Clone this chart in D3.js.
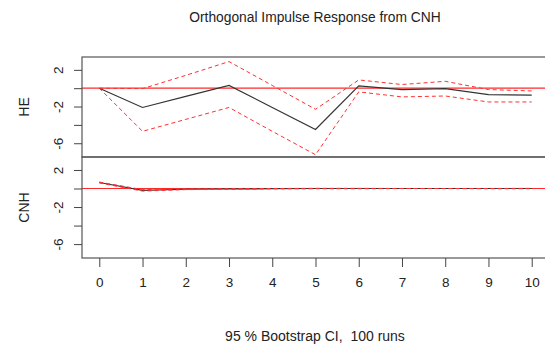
<!DOCTYPE html>
<html>
<head>
<meta charset="utf-8">
<script src="https://cdn.jsdelivr.net/npm/d3@7"></script>
<style>
  body { margin: 0; background: #fff; }
  text { font-family: "Liberation Sans", Arial, sans-serif; fill: #222; }
</style>
</head>
<body>
<div id="chart"></div>
<script>
const horizon = [0, 1, 2, 3, 4, 5, 6, 7, 8, 9, 10];
const yTicks = [2, 0, -2, -4, -6];
const yTickLabels = ['2', '', '-2', '', '-6'];

const heIrf   = [0, -2.1, -0.9, 0.3, -2.1, -4.5, 0.25, -0.15, -0.05, -0.7, -0.75];
const heUpper = [0, -0.05, 1.4, 2.9, 0.3, -2.3, 0.9, 0.4, 0.75, -0.15, -0.3];
const heLower = [0, -4.7, -3.4, -2.1, -4.7, -7.25, -0.4, -0.95, -0.85, -1.5, -1.5];

const cnhIrf   = [0.65, -0.2, -0.08, -0.05, -0.02, 0, 0, 0, 0, 0, 0];
const cnhUpper = [0.7, -0.12, -0.03, -0.02, 0, 0.02, 0.02, 0, 0, 0, 0.02];
const cnhLower = [0.6, -0.28, -0.12, -0.08, -0.03, -0.02, -0.02, 0, 0, -0.02, -0.02];

const width = 545, height = 347;
const margin = {left: 82, right: -4};
const panels = [
  {name: 'HE', irf: heIrf, upper: heUpper, lower: heLower, top: 57, bottom: 157},
  {name: 'CNH', irf: cnhIrf, upper: cnhUpper, lower: cnhLower, top: 157, bottom: 258}
];

const svg = d3.select('#chart').append('svg')
    .attr('width', width)
    .attr('height', height);

const x = d3.scaleLinear()
    .domain([-0.4, 10.4])
    .range([margin.left, width - margin.right]);

panels.forEach(p => {
  const y = d3.scaleLinear()
      .domain([-7.5, 3.4])
      .range([p.bottom, p.top]);

  const g = svg.append('g');

  const line = d3.line()
      .x((d, i) => x(horizon[i]))
      .y(d => y(d));

  g.append('line')
      .attr('x1', x.range()[0]).attr('x2', x.range()[1])
      .attr('y1', y(0)).attr('y2', y(0))
      .attr('stroke', '#ff2a2a')
      .attr('stroke-width', 1.2);

  g.append('path')
      .attr('d', line(p.irf))
      .attr('fill', 'none')
      .attr('stroke', '#333')
      .attr('stroke-width', 1.2);

  [p.upper, p.lower].forEach(ci => {
    g.append('path')
        .attr('d', line(ci))
        .attr('fill', 'none')
        .attr('stroke', '#ff3030')
        .attr('stroke-width', 1)
        .attr('stroke-dasharray', '4,3');
  });

  g.append('rect')
      .attr('x', x.range()[0])
      .attr('y', p.top)
      .attr('width', x.range()[1] - x.range()[0])
      .attr('height', p.bottom - p.top)
      .attr('fill', 'none')
      .attr('stroke', '#555')
      .attr('stroke-width', 1.2);

  const axis = g.append('g')
      .attr('transform', `translate(${x.range()[0]},0)`)
      .call(d3.axisLeft(y).tickValues(yTicks)
        .tickFormat((d, i) => yTickLabels[i]).tickSize(8));
  axis.select('.domain').remove();
  axis.selectAll('line').attr('stroke', '#444');
  axis.selectAll('text')
      .attr('transform', 'rotate(-90)')
      .attr('x', 0)
      .attr('y', -24)
      .attr('dy', '0.35em')
      .attr('text-anchor', 'middle')
      .attr('font-size', 13.5)
      .attr('fill', '#222');

  svg.append('text')
      .attr('transform', `translate(29,${(p.top + p.bottom) / 2}) rotate(-90)`)
      .attr('text-anchor', 'middle')
      .attr('font-size', 14)
      .text(p.name);
});

const xAxis = svg.append('g')
    .attr('transform', 'translate(0,258)')
    .call(d3.axisBottom(x).tickValues(horizon).tickFormat(d3.format('d'))
      .tickSize(9).tickPadding(10));
xAxis.select('.domain').remove();
xAxis.selectAll('line').attr('stroke', '#444');
xAxis.selectAll('text').attr('font-size', 13.5).attr('fill', '#222');

svg.append('text')
    .attr('x', 315).attr('y', 22)
    .attr('text-anchor', 'middle')
    .attr('font-size', 13.8)
    .text('Orthogonal Impulse Response from CNH');

svg.append('text')
    .attr('x', 315).attr('y', 341)
    .attr('text-anchor', 'middle')
    .attr('font-size', 14)
    .text('95 % Bootstrap CI,\u00A0 100 runs');
</script>
</body>
</html>
